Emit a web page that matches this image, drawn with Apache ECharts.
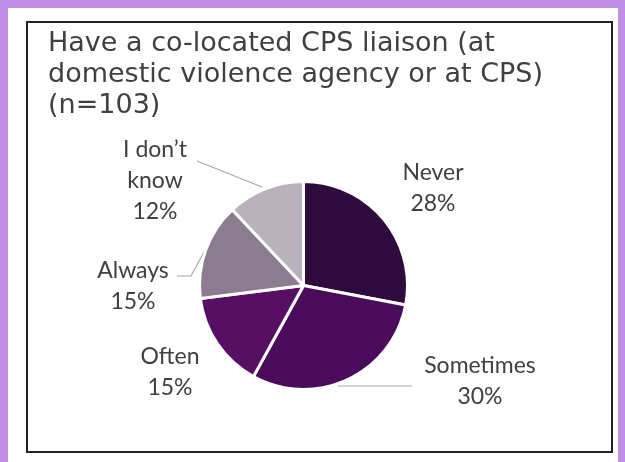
<!DOCTYPE html>
<html>
<head>
<meta charset="utf-8">
<script src="https://cdn.jsdelivr.net/npm/echarts@6/dist/echarts.min.js"></script>
<style>
  html, body { margin: 0; padding: 0; }
  #chart { width: 625px; height: 462px; }
</style>
</head>
<body>
<div id="chart"></div>
<script>
// values (percent of n=103)
const categories = ['Never', 'Sometimes', 'Often', 'Always', 'I don’t know'];
const shares = [28, 30, 15, 15, 12];
const sliceColors = ['#2e0b3c', '#4a0b5b', '#570f64', '#8c7c90', '#b9b2bc'];

// where each label block sits, and its leader line (null = no line)
const labelSpots = [[433, 188], [480, 381], [170, 372], [133, 286], [155, 181]];
const leaderLines = [
  null,
  [[338, 386], [412, 386]],
  null,
  [[205, 250], [191, 276], [177, 276]],
  [[262, 187], [197, 161]]
];

const chart = echarts.init(document.getElementById('chart'));
chart.setOption({
  animation: false,
  backgroundColor: '#c08fe6',
  graphic: [
    { type: 'rect', shape: { x: 8, y: 8, width: 610, height: 454 }, style: { fill: '#fff' }, z: -10 },
    { type: 'rect', shape: { x: 27, y: 22, width: 585, height: 430 }, style: { fill: 'none', stroke: '#222', lineWidth: 2 }, z: -9 }
  ],
  title: {
    text: 'Have a co-located CPS liaison (at\ndomestic violence agency or at CPS)\n(n=103)',
    left: 43, top: 23,
    textStyle: { fontFamily: 'DejaVu Sans', fontSize: 27, fontWeight: 'normal', color: '#404040', lineHeight: 31 }
  },
  series: [{
    type: 'pie',
    center: [303.5, 285.5],
    radius: 104,
    startAngle: 90,
    clockwise: true,
    itemStyle: { borderColor: '#fff', borderWidth: 3 },
    label: {
      formatter: p => p.name.replace(' know', '\nknow') + '\n' + p.value + '%',
      fontFamily: 'Lato', fontSize: 23, color: '#404040', lineHeight: 31, align: 'center'
    },
    labelLine: { lineStyle: { color: '#a8a8a8', width: 1.2 } },
    labelLayout: p => {
      const i = p.dataIndex;
      const out = { x: labelSpots[i][0], y: labelSpots[i][1], align: 'center', verticalAlign: 'middle' };
      if (leaderLines[i]) out.labelLinePoints = leaderLines[i];
      return out;
    },
    data: categories.map((c, i) => ({
      name: c,
      value: shares[i],
      itemStyle: { color: sliceColors[i] },
      labelLine: { show: !!leaderLines[i] }
    }))
  }]
});
</script>
</body>
</html>
